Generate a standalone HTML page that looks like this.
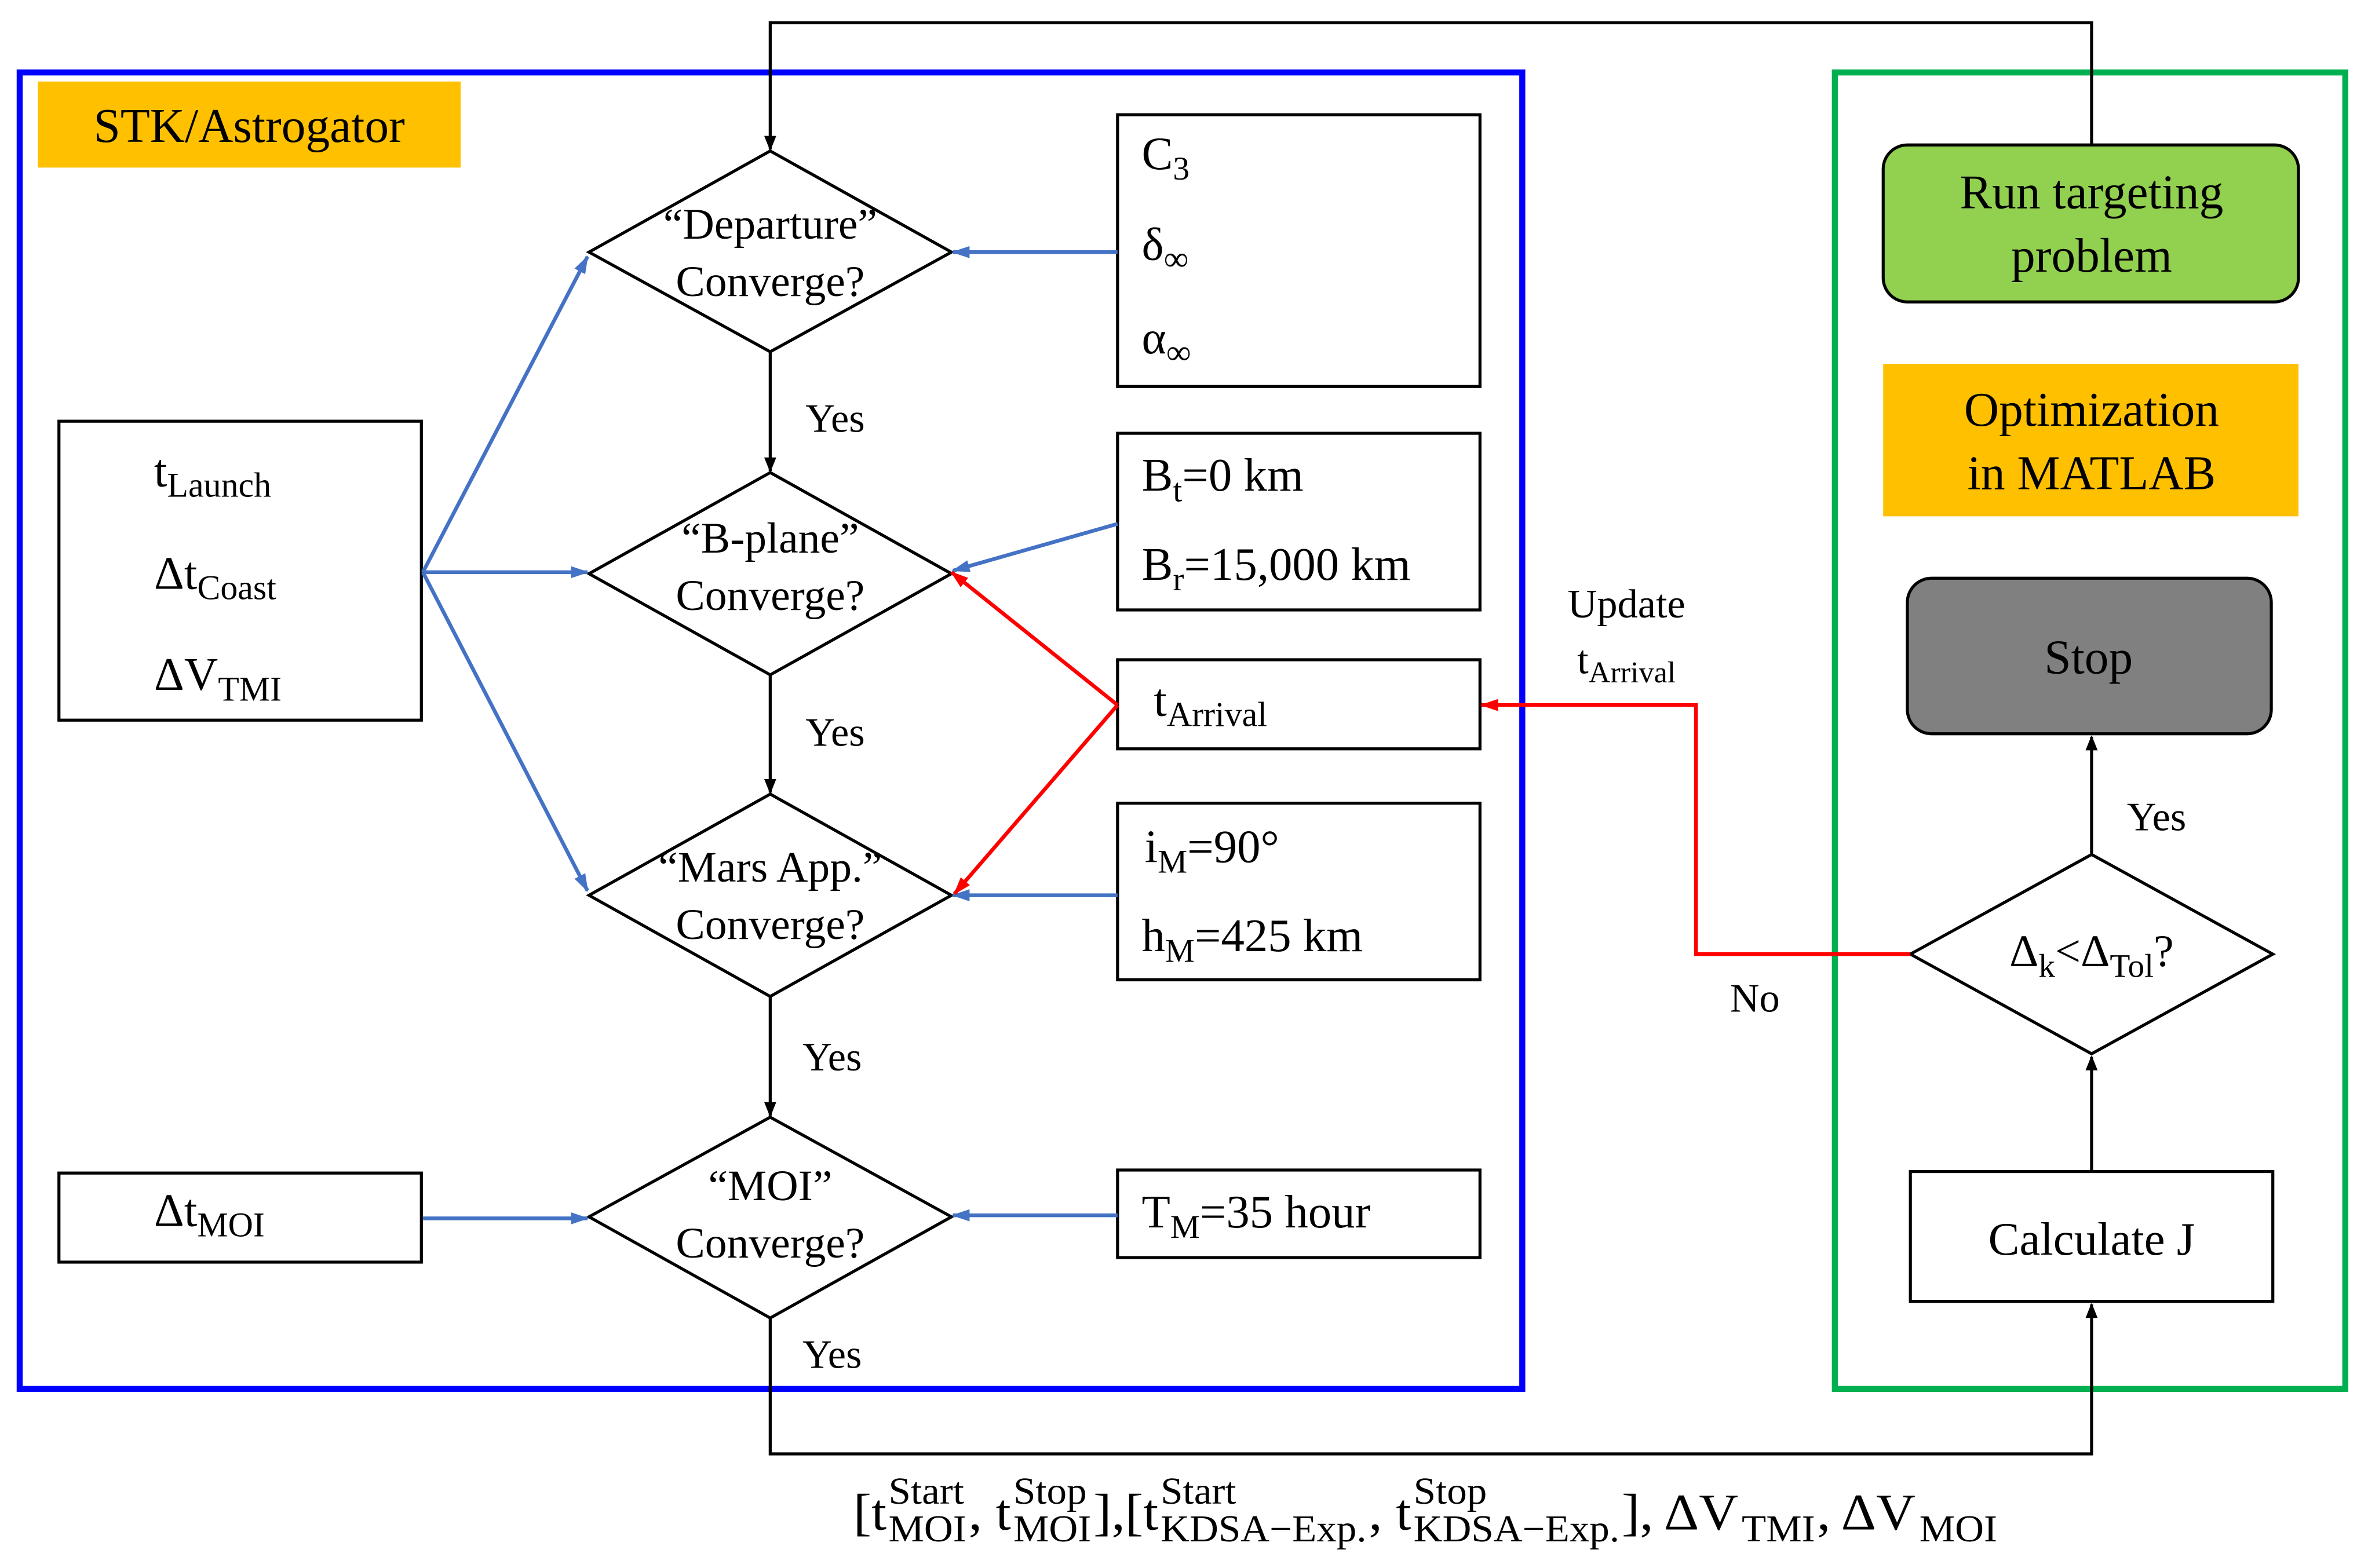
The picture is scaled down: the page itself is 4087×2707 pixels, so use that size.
<!DOCTYPE html>
<html><head><meta charset="utf-8"><style>
html,body{margin:0;padding:0;background:#fff;}
svg{display:block;}
text{font-family:"Liberation Serif",serif;fill:#000;}
</style></head><body>
<svg width="4087" height="2707" viewBox="0 0 1568 1038.6" xmlns="http://www.w3.org/2000/svg">
<defs>
<marker id="ak" markerWidth="10" markerHeight="10" refX="9" refY="5" orient="auto" markerUnits="userSpaceOnUse"><path d="M0,1 L10,5 L0,9 z" fill="#000"/></marker>
<marker id="ab" markerWidth="12" markerHeight="10" refX="11" refY="5" orient="auto" markerUnits="userSpaceOnUse"><path d="M0,1 L12,5 L0,9 z" fill="#4472c4"/></marker>
<marker id="ar" markerWidth="12" markerHeight="10" refX="11" refY="5" orient="auto" markerUnits="userSpaceOnUse"><path d="M0,1 L12,5 L0,9 z" fill="#ff0000"/></marker>
</defs>
<rect x="0" y="0" width="1568" height="1038.6" fill="#fff"/>
<rect x="13" y="48" width="995" height="872" fill="none" stroke="#0000ff" stroke-width="4"/>
<rect x="1215" y="48" width="338" height="872" fill="none" stroke="#00b050" stroke-width="4"/>
<rect x="25" y="54" width="280" height="57" fill="#ffc000"/>
<text x="165" y="94" font-size="32" text-anchor="middle">STK/Astrogator</text>

<polyline points="1385,96 1385,15 510,15 510,99" fill="none" stroke="#000" stroke-width="2" marker-end="url(#ak)"/>
<g fill="#fff" stroke="#000" stroke-width="2">
<polygon points="510,100 630,167 510,233 390,167"/>
<polygon points="510,313 630,380 510,447 390,380"/>
<polygon points="510,526 630,593 510,660 390,593"/>
<polygon points="510,740 630,806 510,873 390,806"/>
<polygon points="1385,566 1505,632 1385,698 1265,632"/>
</g>
<g font-size="29" text-anchor="middle">
<text x="510" y="158">“Departure”</text><text x="510" y="196">Converge?</text>
<text x="510" y="366">“B-plane”</text><text x="510" y="404">Converge?</text>
<text x="510" y="584">“Mars App.”</text><text x="510" y="622">Converge?</text>
<text x="510" y="795">“MOI”</text><text x="510" y="833">Converge?</text>
</g>
<g stroke="#000" stroke-width="2" marker-end="url(#ak)">
<line x1="510" y1="233" x2="510" y2="312"/>
<line x1="510" y1="447" x2="510" y2="525"/>
<line x1="510" y1="660" x2="510" y2="739"/>
<line x1="1385" y1="566" x2="1385" y2="488"/>
<line x1="1385" y1="776" x2="1385" y2="700"/>
</g>
<polyline points="510,873 510,963 1385,963 1385,864" fill="none" stroke="#000" stroke-width="2" marker-end="url(#ak)"/>
<g font-size="27" text-anchor="middle">
<text x="553" y="286">Yes</text><text x="553" y="494">Yes</text><text x="551" y="709">Yes</text><text x="551" y="906">Yes</text>
<text x="1428" y="550">Yes</text><text x="1162" y="670">No</text>
<text x="1077" y="409">Update</text>
<text x="1077" y="446">t<tspan font-size="20" dy="6">Arrival</tspan></text>
</g>

<g fill="#fff" stroke="#000" stroke-width="2">
<rect x="39" y="279" width="240" height="198"/>
<rect x="39" y="777" width="240" height="59"/>
<rect x="740" y="76" width="240" height="180"/>
<rect x="740" y="287" width="240" height="117"/>
<rect x="740" y="437" width="240" height="59"/>
<rect x="740" y="532" width="240" height="117"/>
<rect x="740" y="775" width="240" height="58"/>
<rect x="1265" y="776" width="240" height="86"/>
</g>
<g font-size="31">
<text x="102" y="322">t<tspan font-size="23" dy="7">Launch</tspan></text>
<text x="102" y="390">Δt<tspan font-size="23" dy="7">Coast</tspan></text>
<text x="102" y="457">ΔV<tspan font-size="23" dy="7">TMI</tspan></text>
<text x="102" y="812">Δt<tspan font-size="23" dy="7">MOI</tspan></text>
<text x="756" y="112">C<tspan font-size="22" dy="7">3</tspan></text>
<text x="756" y="172">δ<tspan font-size="23" dy="7">∞</tspan></text>
<text x="756" y="234">α<tspan font-size="23" dy="7">∞</tspan></text>
<text x="756" y="325">B<tspan font-size="22" dy="7">t</tspan><tspan dy="-7">=0 km</tspan></text>
<text x="756" y="384">B<tspan font-size="22" dy="7">r</tspan><tspan dy="-7">=15,000 km</tspan></text>
<text x="764" y="474">t<tspan font-size="23" dy="7">Arrival</tspan></text>
<text x="758" y="571">i<tspan font-size="22" dy="7">M</tspan><tspan dy="-7">=90°</tspan></text>
<text x="756" y="630">h<tspan font-size="22" dy="7">M</tspan><tspan dy="-7">=425 km</tspan></text>
<text x="756" y="813">T<tspan font-size="22" dy="7">M</tspan><tspan dy="-7">=35 hour</tspan></text>
<text x="1385" y="831" text-anchor="middle">Calculate J</text>
<text x="1385" y="640" text-anchor="middle" font-size="30">Δ<tspan font-size="22" dy="7">k</tspan><tspan dy="-7">&lt;Δ</tspan><tspan font-size="22" dy="7">Tol</tspan><tspan dy="-7">?</tspan></text>
</g>

<g stroke="#4472c4" stroke-width="2.5" marker-end="url(#ab)">
<line x1="280" y1="379" x2="389" y2="170"/>
<line x1="280" y1="379" x2="389" y2="379"/>
<line x1="280" y1="379" x2="389" y2="590"/>
<line x1="280" y1="807" x2="389" y2="807"/>
<line x1="740" y1="167" x2="631" y2="167"/>
<line x1="740" y1="347" x2="631" y2="378"/>
<line x1="740" y1="593" x2="631" y2="593"/>
<line x1="740" y1="805" x2="631" y2="805"/>
</g>
<g stroke="#ff0000" stroke-width="2.5" fill="none">
<line x1="740" y1="467" x2="630" y2="379" marker-end="url(#ar)"/>
<line x1="740" y1="467" x2="632" y2="592" marker-end="url(#ar)"/>
<polyline points="1265,632 1123,632 1123,467 981,467" marker-end="url(#ar)"/>
</g>

<rect x="1247" y="96" width="275" height="104" rx="16" fill="#92d050" stroke="#000" stroke-width="2"/>
<text x="1385" y="138" font-size="32" text-anchor="middle">Run targeting</text>
<text x="1385" y="180" font-size="32" text-anchor="middle">problem</text>
<rect x="1247" y="241" width="275" height="101" fill="#ffc000"/>
<text x="1385" y="282" font-size="32" text-anchor="middle">Optimization</text>
<text x="1385" y="324" font-size="32" text-anchor="middle">in MATLAB</text>
<rect x="1263" y="383" width="241" height="103" rx="16" fill="#808080" stroke="#000" stroke-width="2"/>
<text x="1383" y="446" font-size="32" text-anchor="middle">Stop</text>

<g font-size="34" transform="translate(565,0) scale(1.06,1) translate(-565,0)">
<text x="565" y="1013">[t</text>
<text x="587" y="996" font-size="25">Start</text><text x="587" y="1021" font-size="25">MOI</text>
<text x="637" y="1013">, t</text>
<text x="665" y="996" font-size="25">Stop</text><text x="665" y="1021" font-size="25">MOI</text>
<text x="715" y="1013">],[t</text>
<text x="757" y="996" font-size="25">Start</text><text x="757" y="1021" font-size="25">KDSA−Exp.</text>
<text x="887" y="1013">, t</text>
<text x="915" y="996" font-size="25">Stop</text><text x="915" y="1021" font-size="25">KDSA−Exp.</text>
<text x="1045" y="1013">], ΔV</text>
<text x="1120" y="1021" font-size="25">TMI</text>
<text x="1167" y="1013">, ΔV</text>
<text x="1231" y="1021" font-size="25">MOI</text>
</g>
</svg>
</body></html>
